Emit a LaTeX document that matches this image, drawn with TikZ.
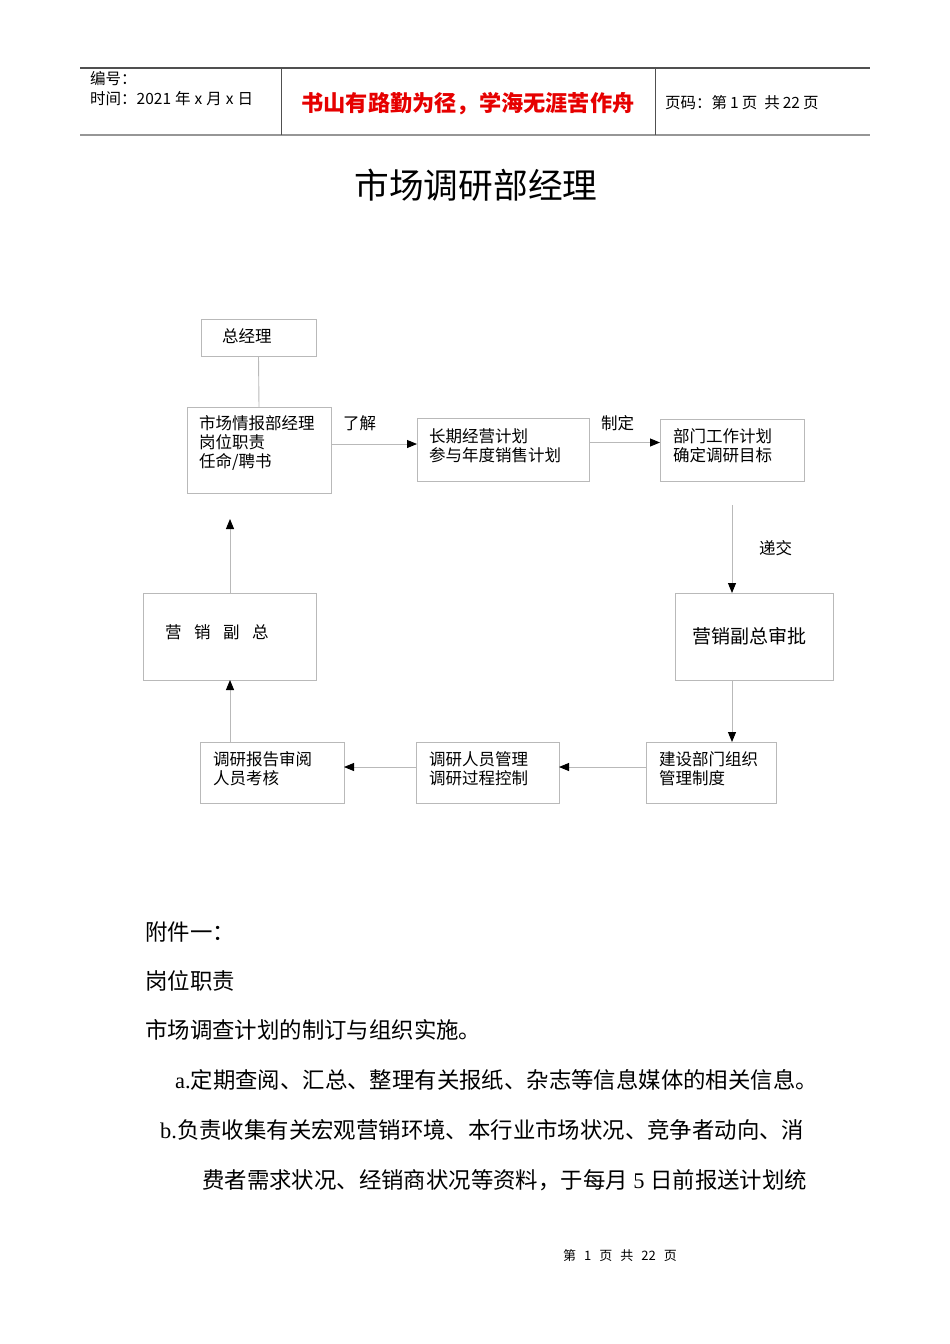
\documentclass[tikz,border=0pt]{standalone}
\usepackage{fontspec}
\setmainfont{Noto Sans CJK SC}
\newfontfamily\ser{Liberation Serif}
\usetikzlibrary{arrows.meta,calc}
\definecolor{lg}{RGB}{185,185,185}
\definecolor{hred}{RGB}{230,0,0}
\definecolor{hdark}{RGB}{80,80,80}
\definecolor{hgray}{RGB}{150,150,150}
\tikzset{
  box/.style={draw=lg, line width=0.9pt, outer sep=0pt, inner sep=0pt, anchor=north west},
  txt/.style={inner sep=0pt, align=left, anchor=north west, font=\fontsize{16.5}{19}\selectfont},
  stxt/.style={inner sep=0pt, anchor=west, font=\fontsize{16.5}{19}\selectfont},
  conn/.style={draw=lg, line width=0.9pt},
  arr/.style={conn, -{Triangle[length=10pt,width=8pt,color=black]}},
  body/.style={inner sep=0pt, anchor=west, font=\fontsize{22.4}{26}\selectfont},
  hdr/.style={inner sep=0pt, anchor=west, font=\fontsize{15.5}{20}\selectfont}
}
\begin{document}
\begin{tikzpicture}[x=1pt,y=-1pt]
\useasboundingbox[fill=white] (0,0) rectangle (950,1344);
% header
\draw[hdark, line width=1.2pt] (80,68) -- (870,68);
\draw[hgray, line width=2.4pt] (80,135) -- (870,135);
\draw[hdark, line width=1pt] (281,68) -- (281,135);
\draw[hdark, line width=1pt] (655,68) -- (655,135);
\node[hdr] (h1) at (90,79) {编号：};
\node[hdr] (h2) at (90,99) {时间：2021\hspace{4pt}年\hspace{4pt}x\hspace{4pt}月\hspace{4pt}x\hspace{4pt}日};
\node[inner sep=0pt, text=hred, font=\fontsize{22.2}{26}\selectfont\bfseries] (h3) at (468,104) {书山有路勤为径，学海无涯苦作舟};
\node[hdr] (h4) at (665,103) {页码：第\hspace{3pt}1\hspace{3pt}页\hspace{7pt}共\hspace{3pt}22\hspace{3pt}页};
% title
\node[inner sep=0pt, font=\fontsize{34.7}{40}\selectfont] (title) at (476,185) {市场调研部经理};
% boxes
\node[box, minimum width=115pt, minimum height=37pt] (b1) at (201,319) {};
\node[stxt] (b1t) at (222,336) {总经理};
\node[box, minimum width=144pt, minimum height=86pt] (b2) at (187,407) {};
\node[txt] (b2t) at (199,415.8) {市场情报部经理\\岗位职责\\任命/聘书};
\node[box, minimum width=172pt, minimum height=63pt] (b3) at (417,418) {};
\node[txt] (b3t) at (429,428.8) {长期经营计划\\参与年度销售计划};
\node[box, minimum width=144pt, minimum height=62pt] (b4) at (660,419) {};
\node[txt] (b4t) at (673,428.8) {部门工作计划\\确定调研目标};
\node[box, minimum width=158pt, minimum height=87pt] (b5) at (675,593) {};
\node[inner sep=0pt, font=\fontsize{19}{22}\selectfont] (b5t) at ([xshift=-5pt]b5.center) {营销副总审批};
\node[box, minimum width=130pt, minimum height=61pt] (b6) at (646,742) {};
\node[txt] (b6t) at (659,751.8) {建设部门组织\\管理制度};
\node[box, minimum width=143pt, minimum height=61pt] (b7) at (416,742) {};
\node[txt] (b7t) at (429,751.8) {调研人员管理\\调研过程控制};
\node[box, minimum width=144pt, minimum height=61pt] (b8) at (200,742) {};
\node[txt] (b8t) at (213,751.8) {调研报告审阅\\人员考核};
\node[box, minimum width=173pt, minimum height=87pt] (b9) at (143,593) {};
\node[stxt] (b9t) at (165,632) {营\hspace{12.5pt}销\hspace{12.5pt}副\hspace{12.5pt}总};
% free ends
\coordinate (c1) at (732,505);
\coordinate (c2) at (230,519);
% connectors
\draw[conn] (b1.south) -- (b2.north);
\draw[arr] ([yshift=6pt]b2.east) -- ([yshift=6pt]b2.east -| b3.west);
\draw[arr] ([yshift=7pt]b3.east) -- ([yshift=7pt]b3.east -| b4.west);
\draw[arr] (c1) -- (c1 |- b5.north);
\draw[arr] (c1 |- b5.south) -- (c1 |- b6.north);
\draw[arr] ([yshift=5.5pt]b6.west) -- ([yshift=5.5pt]b6.west -| b7.east);
\draw[arr] ([yshift=5.5pt]b7.west) -- ([yshift=5.5pt]b7.west -| b8.east);
\draw[arr] (c2 |- b8.north) -- (c2 |- b9.south);
\draw[arr] (c2 |- b9.north) -- (c2);
% labels
\node[stxt] (l1) at (343,423) {了解};
\node[stxt] (l2) at (601,423) {制定};
\node[stxt] (l3) at (759,548) {递交};
% body text
\node[body] (t1) at (145,932) {附件一：};
\node[body] (t2) at (145,981) {岗位职责};
\node[body] (t3) at (145,1030) {市场调查计划的制订与组织实施。};
\node[body] (t4) at (175,1080) {{\ser a.}定期查阅、汇总、整理有关报纸、杂志等信息媒体的相关信息。};
\node[body] (t5) at (160,1130) {{\ser b.}负责收集有关宏观营销环境、本行业市场状况、竞争者动向、消};
\node[body] (t6) at (202,1180) {费者需求状况、经销商状况等资料，于每月{\ser\ 5 }日前报送计划统};
% footer
\node[inner sep=0pt, font=\fontsize{13}{16}\selectfont] (foot) at (620,1256) {第\hspace{8pt}1\hspace{8pt}页\hspace{8pt}共\hspace{8pt}22\hspace{8pt}页};
\end{tikzpicture}
\end{document}
